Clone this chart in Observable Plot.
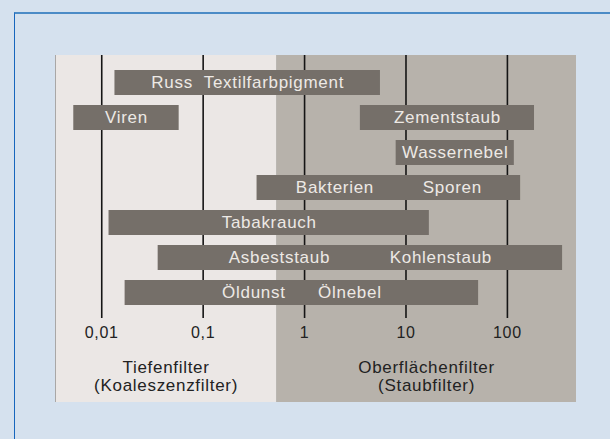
<!DOCTYPE html>
<html><head><meta charset="utf-8">
<script src="https://cdn.jsdelivr.net/npm/d3@7"></script>
<script src="https://cdn.jsdelivr.net/npm/@observablehq/plot@0.6"></script>
<style>
html,body{margin:0;padding:0;background:#d5e1ee;width:610px;height:439px;overflow:hidden}
#frame{position:absolute;left:14px;top:12px;right:0;bottom:0;border-top:2px solid #4b8bc6;border-left:1px solid #1766bd}
#chart{position:absolute;left:0;top:0}
#chart svg text{font-family:"Liberation Sans",Arial,sans-serif;letter-spacing:.7px}
</style></head>
<body><div id="frame"></div><div id="chart"></div>
<script>
// Particle size ranges (µm), one bar per substance
const labels = ["Russ  Textilfarbpigment", "Viren", "Zementstaub", "Wassernebel",
  "Bakterien         Sporen", "Tabakrauch", "Asbeststaub           Kohlenstaub", "Öldunst      Ölnebel"];
const rowsOf = [1, 2, 2, 3, 4, 5, 6, 7];
const fromVals = [0.0135, 0.0053, 3.55, 8.0, 0.34, 0.0118, 0.036, 0.017];
const toVals = [5.6, 0.058, 185, 117, 135, 17, 350, 52];

const tickValues = [0.01, 0.1, 1, 10, 100];
const tickLabels = ["0,01", "0,1", "1", "10", "100"];

const xDomain = [0.0035, 480];
const split = 0.53;
const regionNames = ["Tiefenfilter\n(Koaleszenzfilter)", "Oberflächenfilter\n(Staubfilter)"];
const regionFrom = [xDomain[0], split];
const regionTo = [split, xDomain[1]];
const regionFill = ["#ebe7e5", "#b7b2ab"];

const bars = labels.map((l, i) => ({label: l.replace(/ /g, "\u00a0"), row: rowsOf[i], from: fromVals[i], to: toVals[i]}));
const regions = regionNames.map((n, i) => ({name: n, from: regionFrom[i], to: regionTo[i], fill: regionFill[i]}));
const ticks = tickValues.map((v, i) => ({v, t: tickLabels[i]}));

const chart = Plot.plot({
  width: 610, height: 439,
  marginLeft: 55, marginRight: 34, marginTop: 55, marginBottom: 37,
  style: {background: "transparent"},
  x: {type: "log", domain: xDomain, axis: null},
  y: {type: "band", domain: [1,2,3,4,5,6,7], range: [63.8, 311.2], paddingInner: 0.29, paddingOuter: 0.145, axis: null},
  marks: [
    Plot.rect(regions, {x1: "from", x2: "to", fill: "fill"}),
    Plot.ruleX([xDomain[0]], {stroke: "#a9a7a6", strokeWidth: 1}),
    Plot.ruleX(tickValues, {stroke: "#151515", strokeWidth: 1.6, insetBottom: 84}),
    Plot.barX(bars, {x1: "from", x2: "to", y: "row", fill: "#756f69"}),
    Plot.text(bars, {x: d => Math.sqrt(d.from * d.to), y: "row", text: "label", fill: "#ede9e5", fontSize: 17}),
    Plot.text(ticks, {x: "v", text: "t", frameAnchor: "bottom", dy: -65, fontSize: 16, fill: "#222"}),
    Plot.text(regions, {x: d => Math.sqrt(d.from * d.to), text: "name", frameAnchor: "bottom", dy: -26.5, lineAnchor: "middle", lineHeight: 1.04, fontSize: 17, fill: "#222"})
  ]
});
document.getElementById("chart").appendChild(chart);
</script>
</body></html>
